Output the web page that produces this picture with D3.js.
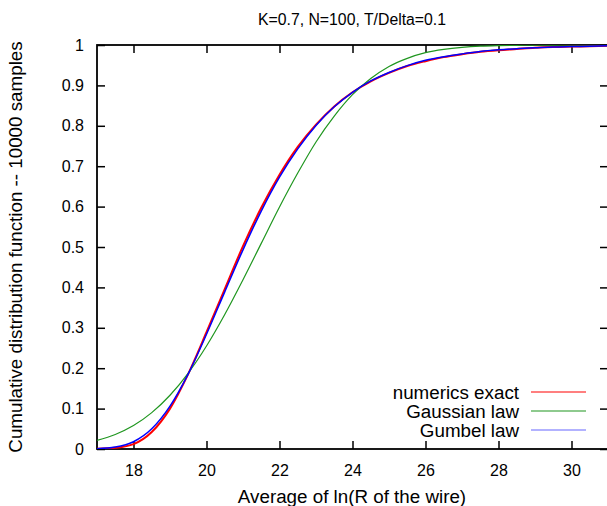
<!DOCTYPE html>
<html>
<head>
<meta charset="utf-8">
<script src="https://cdn.jsdelivr.net/npm/d3@7"></script>
<style>
  body { margin: 0; background: #fff; }
  svg { display: block; font-family: "Liberation Sans", Arial, sans-serif; }
</style>
</head>
<body>
<div id="chart"></div>
<script>
// values
const xs = [17, 17.5, 18, 18.5, 19, 19.5, 20, 20.5, 21, 21.5, 22, 22.5, 23, 23.5, 24,
            24.5, 25, 25.5, 26, 26.5, 27, 27.5, 28, 28.5, 29, 29.5, 30, 30.5, 31];
const numerics = [0.0005, 0.003, 0.012, 0.042, 0.100, 0.186, 0.289, 0.396, 0.502, 0.597, 0.679, 0.748, 0.803, 0.848, 0.883,
                  0.910, 0.931, 0.948, 0.960, 0.970, 0.977, 0.983, 0.987, 0.990, 0.993, 0.995, 0.996, 0.997, 0.998];
const gaussian = [0.0215, 0.036, 0.058, 0.090, 0.133, 0.188, 0.255, 0.333, 0.419, 0.509, 0.599, 0.683, 0.760, 0.824, 0.877,
                  0.917, 0.947, 0.967, 0.981, 0.989, 0.994, 0.997, 0.9985, 0.9993, 0.9997, 0.9999, 1, 1, 1];
const gumbel = [0.0008, 0.0048, 0.018, 0.050, 0.106, 0.186, 0.284, 0.389, 0.493, 0.589, 0.673, 0.743, 0.801, 0.847, 0.883,
                0.911, 0.932, 0.949, 0.962, 0.971, 0.978, 0.984, 0.988, 0.991, 0.993, 0.995, 0.996, 0.997, 0.998];

const xTicks = [18, 20, 22, 24, 26, 28, 30];
const yTicks = [0, 0.1, 0.2, 0.3, 0.4, 0.5, 0.6, 0.7, 0.8, 0.9, 1];

const series = [
    { name: 'numerics exact', values: numerics, color: '#ff0000', width: 2 },
    { name: 'Gaussian law', values: gaussian, color: '#1f961f', width: 1.2 },
    { name: 'Gumbel law', values: gumbel, color: '#0000ff', width: 1.5 }
];

const width = 607, height = 506;
const marginLeft = 97, marginRight = -1, marginTop = 45, marginBottom = 57;

const svg = d3.select('#chart').append('svg')
    .attr('width', width)
    .attr('height', height)
    .attr('viewBox', [0, 0, width, height]);

const xScale = d3.scaleLinear().domain([17, 31]).range([marginLeft, width - marginRight]);
const yScale = d3.scaleLinear().domain([0, 1]).range([height - marginBottom, marginTop]);

svg.append('defs').append('clipPath').attr('id', 'clip')
    .append('rect')
    .attr('x', marginLeft).attr('y', marginTop)
    .attr('width', xScale(31) - marginLeft)
    .attr('height', yScale(0) - marginTop);

// title
svg.append('text')
    .attr('x', 352).attr('y', 25)
    .attr('text-anchor', 'middle')
    .style('font-size', '15.8px')
    .text('K=0.7, N=100, T/Delta=0.1');

// bottom axis with inward ticks
svg.append('g')
    .attr('transform', `translate(0,${yScale(0)})`)
    .call(d3.axisBottom(xScale).tickValues(xTicks).tickSize(-8).tickPadding(16).tickFormat(d3.format('d')))
    .call(g => g.select('.domain').remove())
    .call(g => g.selectAll('.tick line').attr('stroke', '#000').attr('stroke-width', 1.5))
    .call(g => g.selectAll('.tick text').style('font-size', '16px').attr('fill', '#000'));

// top mirror ticks
svg.append('g')
    .attr('transform', `translate(0,${yScale(1)})`)
    .call(d3.axisTop(xScale).tickValues(xTicks).tickSize(-8).tickFormat(''))
    .call(g => g.select('.domain').remove())
    .call(g => g.selectAll('.tick line').attr('stroke', '#000').attr('stroke-width', 1.5));

// left axis
svg.append('g')
    .attr('transform', `translate(${marginLeft},0)`)
    .call(d3.axisLeft(yScale).tickValues(yTicks).tickSize(-8).tickPadding(13).tickFormat(d3.format('~g')))
    .call(g => g.select('.domain').remove())
    .call(g => g.selectAll('.tick line').attr('stroke', '#000').attr('stroke-width', 1.5))
    .call(g => g.selectAll('.tick text').style('font-size', '16px').attr('fill', '#000'));

// right mirror ticks
svg.append('g')
    .attr('transform', `translate(${xScale(31)},0)`)
    .call(d3.axisRight(yScale).tickValues(yTicks).tickSize(-8).tickFormat(''))
    .call(g => g.select('.domain').remove())
    .call(g => g.selectAll('.tick line').attr('stroke', '#000').attr('stroke-width', 1.5));

// frame
svg.append('rect')
    .attr('x', marginLeft).attr('y', marginTop)
    .attr('width', xScale(31) - marginLeft)
    .attr('height', yScale(0) - marginTop)
    .attr('fill', 'none')
    .attr('stroke', '#000')
    .attr('stroke-width', 1.8);

const line = d3.line()
    .curve(d3.curveMonotoneX)
    .x((d, i) => xScale(xs[i]))
    .y(d => yScale(d));

svg.append('g')
    .attr('clip-path', 'url(#clip)')
    .selectAll('path')
    .data(series)
    .join('path')
    .attr('fill', 'none')
    .attr('stroke', d => d.color)
    .attr('stroke-width', d => d.width)
    .attr('stroke-linejoin', 'round')
    .attr('d', d => line(d.values));

// legend
const legend = svg.append('g')
    .selectAll('g')
    .data(series)
    .join('g')
    .attr('transform', (d, i) => `translate(0,${392 + i * 19})`);

legend.append('text')
    .attr('x', 519).attr('y', 0)
    .attr('dy', '0.35em')
    .attr('text-anchor', 'end')
    .style('font-size', '18.8px')
    .text(d => d.name);

legend.append('line')
    .attr('x1', 531).attr('x2', 586)
    .attr('stroke', d => d.color)
    .attr('stroke-opacity', d => d.name === 'Gumbel law' ? 0.6 : 1)
    .attr('stroke-width', 1.2);

// axis titles
svg.append('text')
    .attr('x', 352).attr('y', 503)
    .attr('text-anchor', 'middle')
    .style('font-size', '18.8px')
    .text('Average of ln(R of the wire)');

svg.append('text')
    .attr('transform', `translate(22,${(yScale(0) + yScale(1)) / 2}) rotate(-90)`)
    .attr('text-anchor', 'middle')
    .style('font-size', '18.8px')
    .text('Cumulative distribution function -- 10000 samples');
</script>
</body>
</html>
